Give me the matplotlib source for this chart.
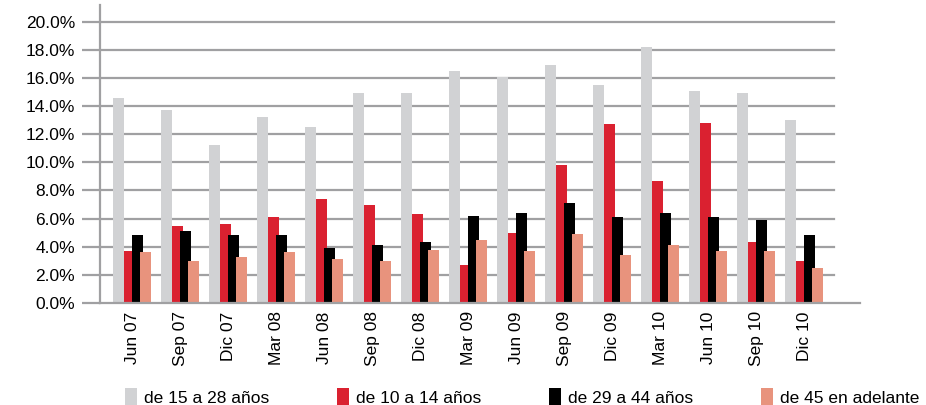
import numpy as np
import matplotlib.pyplot as plt

plt.rcParams['font.family'] = ['Liberation Sans', 'DejaVu Sans']

periods = ['Jun 07', 'Sep 07', 'Dic 07', 'Mar 08', 'Jun 08', 'Sep 08', 'Dic 08', 'Mar 09',
           'Jun 09', 'Sep 09', 'Dic 09', 'Mar 10', 'Jun 10', 'Sep 10', 'Dic 10']

de_15_28 = [14.6, 13.7, 11.2, 13.2, 12.5, 14.9, 14.9, 16.5, 16.1, 16.9, 15.5, 18.2, 15.1, 14.9, 13.0]
de_10_14 = [3.7, 5.5, 5.6, 6.1, 7.4, 7.0, 6.3, 2.7, 5.0, 9.8, 12.7, 8.7, 12.8, 4.3, 3.0]
de_29_44 = [4.8, 5.1, 4.8, 4.8, 3.9, 4.1, 4.3, 6.2, 6.4, 7.1, 6.1, 6.4, 6.1, 5.9, 4.8]
de_45 = [3.6, 3.0, 3.3, 3.6, 3.1, 3.0, 3.8, 4.5, 3.7, 4.9, 3.4, 4.1, 3.7, 3.7, 2.5]

series = [
    ('de 15 a 28 años', de_15_28, '#d1d2d4', -0.286),
    ('de 10 a 14 años', de_10_14, '#da2130', -0.057),
    ('de 29 a 44 años', de_29_44, '#000000', 0.109),
    ('de 45 en adelante', de_45, '#e8937d', 0.286),
]

fig = plt.figure(figsize=(9.26, 4.05), dpi=100)
ax = fig.add_axes([0.108, 0.252, 0.821, 0.736])

x = np.arange(len(periods))
yticks = np.arange(0, 21, 2)

# gridlines stop a bit before the end of the x axis line
for yv in yticks[1:]:
    ax.axhline(yv, xmin=0, xmax=0.965, color='#a0a0a2', lw=1.6, zorder=0)

for label, vals, col, off in series:
    ax.bar(x + off, vals, width=0.23, color=col, label=label, zorder=2)

ax.set_xlim(-0.667, 15.17)
ax.set_ylim(0, 21.2)
ax.set_yticks(yticks)
ax.set_yticklabels(['%.1f%%' % v for v in yticks], fontsize=12.5)
ax.set_xticks(x)
ax.set_xticklabels(periods, rotation=90, fontsize=12.5)

for s in ['top', 'right']:
    ax.spines[s].set_visible(False)
ax.spines['left'].set_color('#a0a0a2')
ax.spines['bottom'].set_color('#a0a0a2')
ax.spines['left'].set_linewidth(1.6)
ax.spines['bottom'].set_linewidth(1.6)
ax.tick_params(axis='y', length=13, width=1.6, color='#a0a0a2', pad=5)
ax.tick_params(axis='x', length=0, pad=6)

fig.legend(loc='lower left', bbox_to_anchor=(0.118, -0.04), ncol=4, frameon=False,
           fontsize=12.5, handlelength=0.7, handleheight=1.2, handletextpad=0.4,
           columnspacing=3.9)

fig.savefig('out.png', dpi=100)
